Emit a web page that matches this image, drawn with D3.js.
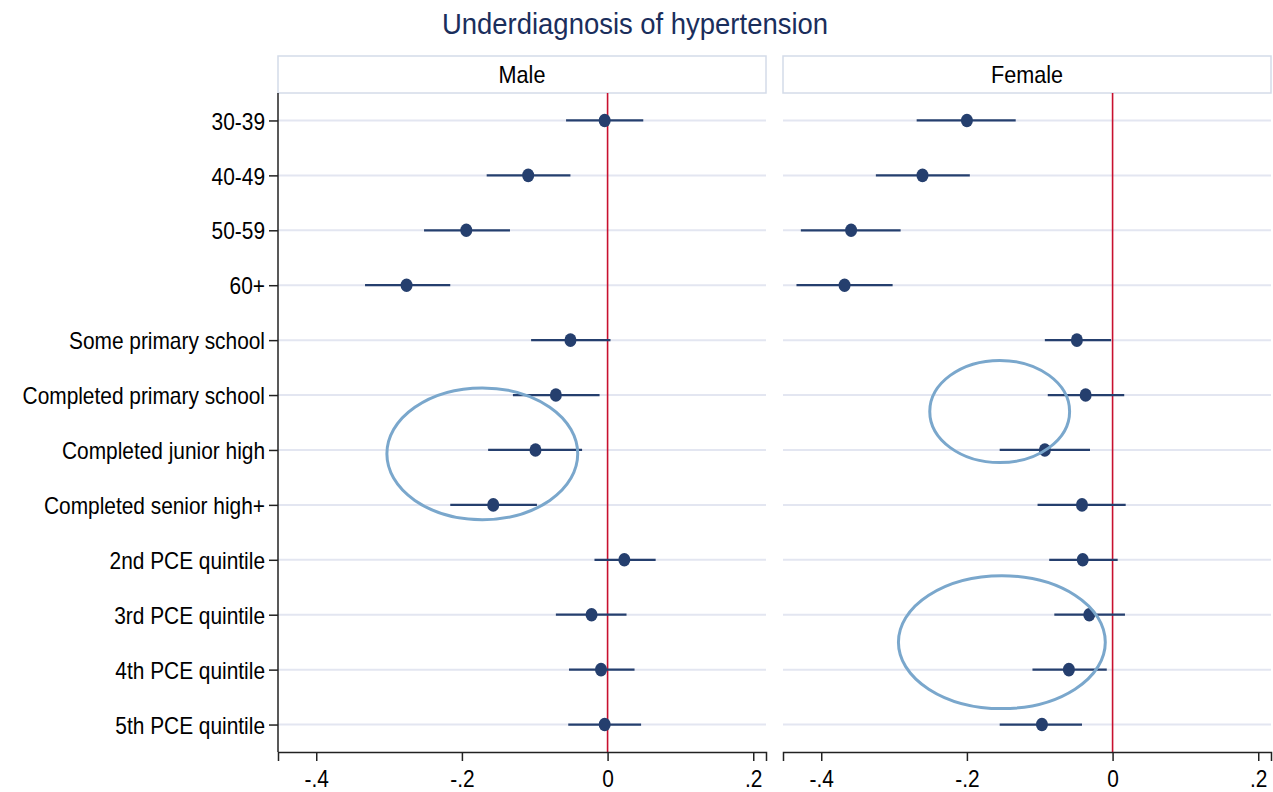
<!DOCTYPE html>
<html><head><meta charset="utf-8">
<script src="https://cdn.jsdelivr.net/npm/d3@7"></script>
<style>body{margin:0;background:#fff}</style>
</head><body>
<script>
const categories = ["30-39","40-49","50-59","60+","Some primary school","Completed primary school","Completed junior high","Completed senior high+","2nd PCE quintile","3rd PCE quintile","4th PCE quintile","5th PCE quintile"];
const panels = ["Male","Female"];
const maleEst = [-0.004,-0.109,-0.194,-0.276,-0.051,-0.071,-0.099,-0.157,0.023,-0.022,-0.009,-0.004];
const maleLo  = [-0.057,-0.166,-0.252,-0.333,-0.105,-0.130,-0.164,-0.216,-0.018,-0.071,-0.053,-0.054];
const maleHi  = [0.049,-0.051,-0.134,-0.216,0.004,-0.011,-0.035,-0.097,0.066,0.026,0.037,0.046];
const femaleEst = [-0.200,-0.261,-0.359,-0.368,-0.049,-0.037,-0.093,-0.042,-0.041,-0.032,-0.060,-0.097];
const femaleLo  = [-0.269,-0.325,-0.428,-0.434,-0.093,-0.089,-0.155,-0.103,-0.087,-0.080,-0.110,-0.155];
const femaleHi  = [-0.133,-0.196,-0.291,-0.302,-0.002,0.016,-0.031,0.018,0.007,0.017,-0.008,-0.042];
const xTicks = [-0.4,-0.2,0,0.2];
const xTickLabels = ["-.4","-.2","0",".2"];
// annotation ellipses: panel, centre value, centre row (index), x radius (value units), y radius (rows)
const ellPanel = ["Male","Female","Female"];
const ellCx = [-0.172,-0.155,-0.152];
const ellCy = [6.07,5.30,9.50];
const ellRx = [0.131,0.096,0.142];
const ellRy = [1.20,0.93,1.21];

const W=1273,H=792;
const font = "'Liberation Sans',Arial,Helvetica,sans-serif";
const SX = 0.87;
const svg = d3.select("body").append("svg").attr("width",W).attr("height",H).style("font-family",font);

svg.append("text").attr("transform",`translate(635,34) scale(0.915,1)`).attr("text-anchor","middle")
  .attr("font-size",30).attr("fill","#1a2e5c").text("Underdiagnosis of hypertension");

const panelX = {Male:[278,766], Female:[783,1271]};
const headTop=56, headBot=93, plotBot=752;
const data = {Male:[maleEst,maleLo,maleHi], Female:[femaleEst,femaleLo,femaleHi]};

const y = d3.scalePoint().domain(categories).range([headBot,plotBot]).padding(0.5);
const step = y.step();

panels.forEach(p=>{
  const [x0,x1] = panelX[p];
  const x = d3.scaleLinear().domain([-0.4525,0.2175]).range([x0,x1]);
  const g = svg.append("g");
  // header
  g.append("rect").attr("x",x0).attr("y",headTop).attr("width",x1-x0).attr("height",headBot-headTop)
    .attr("fill","#fff").attr("stroke","#d4dbe9").attr("stroke-width",1.5);
  g.append("text").attr("transform",`translate(${(x0+x1)/2},83) scale(0.9,1)`).attr("text-anchor","middle")
    .attr("font-size",24).attr("fill","#000").text(p);
  // gridlines
  g.selectAll(".grid").data(categories).enter().append("line")
    .attr("x1",x0).attr("x2",x1).attr("y1",d=>y(d)).attr("y2",d=>y(d))
    .attr("stroke","#e3e6f1").attr("stroke-width",2);
  // reference line
  g.append("line").attr("x1",x(0)).attr("x2",x(0)).attr("y1",headBot).attr("y2",plotBot)
    .attr("stroke","#c8102e").attr("stroke-width",1.6);
  // x axis
  const xa = g.append("g").attr("transform",`translate(0,${plotBot})`)
    .call(d3.axisBottom(x).tickValues(xTicks).tickFormat((d,i)=>xTickLabels[i]).tickSize(9).tickPadding(4));
  xa.select(".domain").attr("stroke","#222").attr("stroke-width",1.5);
  xa.selectAll(".tick line").attr("stroke","#222").attr("stroke-width",1.5);
  xa.selectAll("text").attr("font-size",24).attr("fill","#000").style("font-family",font)
    .attr("dy",null).attr("y",35).attr("transform","scale(0.87,1)");
  if(p==="Male"){
    const ya = g.append("g").attr("transform",`translate(${x0},0)`)
      .call(d3.axisLeft(y).tickSize(9).tickPadding(4));
    ya.select(".domain").attr("d",`M0,${headBot}V${plotBot}`).attr("stroke","#222").attr("stroke-width",1.5);
    ya.selectAll(".tick line").attr("stroke","#222").attr("stroke-width",1.5);
    ya.selectAll("text").attr("font-size",24).attr("fill","#000").style("font-family",font)
      .attr("x",-13/SX).attr("dy","0.36em").attr("transform",`scale(${SX},1)`);
  }
  const [est,lo,hi] = data[p];
  g.selectAll(".ci").data(categories).enter().append("line")
    .attr("x1",(d,i)=>x(lo[i])).attr("x2",(d,i)=>x(hi[i]))
    .attr("y1",d=>y(d)).attr("y2",d=>y(d))
    .attr("stroke","#253f6e").attr("stroke-width",2.2);
  g.selectAll(".pt").data(categories).enter().append("ellipse")
    .attr("cx",(d,i)=>x(est[i])).attr("cy",d=>y(d)).attr("rx",6).attr("ry",6.8)
    .attr("fill","#253f6e");
  ellPanel.forEach((ep,i)=>{
    if(ep!==p) return;
    g.append("ellipse").attr("cx",x(ellCx[i])).attr("cy",y(categories[0])+ellCy[i]*step)
      .attr("rx",x(ellRx[i])-x(0)).attr("ry",ellRy[i]*step)
      .attr("fill","none").attr("stroke","#7aa7cc").attr("stroke-width",3);
  });
});
</script>
</body></html>
